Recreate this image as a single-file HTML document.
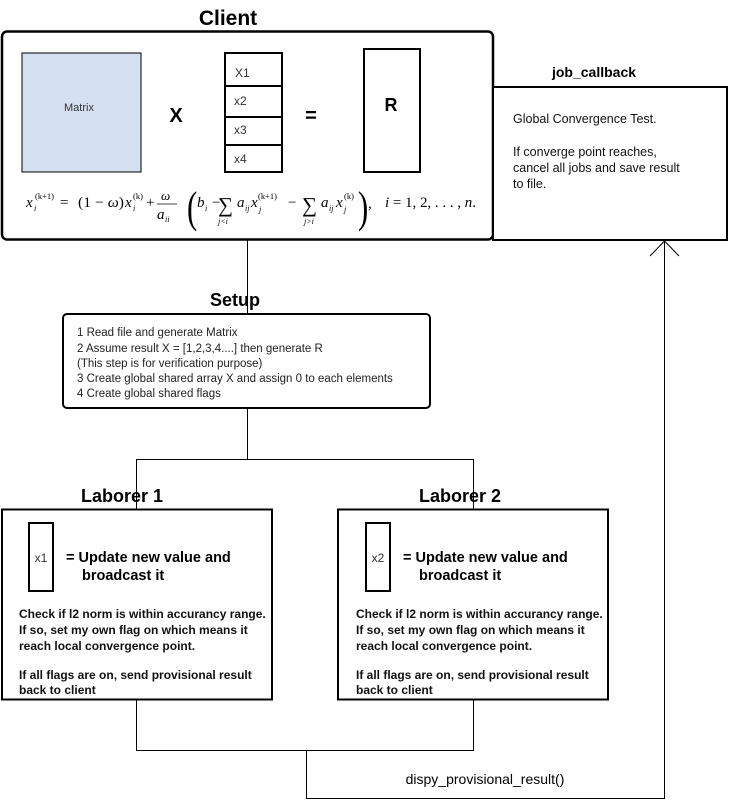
<!DOCTYPE html>
<html><head><meta charset="utf-8"><style>
html,body{margin:0;padding:0;background:#fff;}
svg{display:block;font-family:"Liberation Sans",Arial,sans-serif;}
</style></head><body>
<svg width="729" height="808" viewBox="0 0 729 808" xmlns="http://www.w3.org/2000/svg">
<!-- connectors -->
<g stroke="#000" stroke-width="1" fill="none">
<line x1="247.5" y1="240" x2="247.5" y2="314"/>
<line x1="247.5" y1="408" x2="247.5" y2="459.5"/>
<polyline points="136.5,509 136.5,459.5 473.5,459.5 473.5,509"/>
<polyline points="136.5,700 136.5,750.5 473.5,750.5 473.5,700"/>
<polyline points="306.5,750 306.5,798.5 664.5,798.5 664.5,242"/>
<polyline points="650,256 664.5,241 679,256"/>
</g>
<!-- client -->
<rect x="2" y="31.5" width="491" height="208" rx="5" fill="#fff" stroke="#000" stroke-width="2.5"/>
<text x="228" y="25" font-size="21" font-weight="bold" text-anchor="middle">Client</text>
<rect x="22" y="53" width="119" height="119" fill="#d4e0f2" stroke="#000" stroke-width="1"/>
<text x="79" y="111" font-size="11" fill="#333" text-anchor="middle">Matrix</text>
<text x="176" y="122" font-size="20" font-weight="bold" text-anchor="middle">X</text>
<g fill="none" stroke="#000" stroke-width="2">
<rect x="225" y="53" width="57" height="119"/>
<line x1="225" y1="86" x2="282" y2="86"/>
<line x1="225" y1="117" x2="282" y2="117"/>
<line x1="225" y1="145" x2="282" y2="145"/>
<rect x="364" y="49" width="56" height="123"/>
</g>
<g font-size="12" fill="#333">
<text x="235" y="77">X1</text><text x="234" y="105">x2</text><text x="234" y="134">x3</text><text x="234" y="163">x4</text>
</g>
<text x="311" y="122" font-size="20" font-weight="bold" text-anchor="middle">=</text>
<text x="391" y="111" font-size="18" font-weight="bold" text-anchor="middle">R</text>
<!-- formula -->
<g font-family="'Liberation Serif',serif" font-size="15" fill="#000">
<text x="26" y="207" font-style="italic">x</text>
<text x="34" y="211" font-size="8" font-style="italic">i</text>
<text x="35" y="199" font-size="8.5">(k+1)</text>
<text x="60" y="207">=</text>
<text x="78" y="207" textLength="46" lengthAdjust="spacingAndGlyphs">(1 − <tspan font-style="italic">ω</tspan>)</text>
<text x="125" y="207" font-style="italic">x</text>
<text x="133" y="211" font-size="8" font-style="italic">i</text>
<text x="133" y="199" font-size="8.5">(k)</text>
<text x="146" y="207">+</text>
<text x="161" y="200" font-size="13" font-style="italic">ω</text>
<line x1="157" y1="204" x2="177" y2="204" stroke="#000" stroke-width="0.8"/>
<text x="157" y="219" font-style="italic">a</text>
<text x="165" y="222" font-size="8" font-style="italic">ii</text>
<text x="187" y="222" font-size="44" font-weight="lighter" transform="translate(187 222) scale(0.7 1) translate(-187 -222)">(</text>
<text x="197" y="207" font-style="italic">b</text>
<text x="205" y="211" font-size="8" font-style="italic">i</text>
<text x="212" y="207">−</text>
<text x="218" y="212" font-size="21">∑</text>
<text x="218" y="224" font-size="8" font-style="italic">j&lt;i</text>
<text x="237" y="207" font-style="italic">a</text>
<text x="245" y="211" font-size="8" font-style="italic">ij</text>
<text x="251" y="207" font-style="italic">x</text>
<text x="259" y="212" font-size="8" font-style="italic">j</text>
<text x="258" y="199" font-size="8.5">(k+1)</text>
<text x="288" y="207">−</text>
<text x="302" y="212" font-size="21">∑</text>
<text x="304" y="224" font-size="8" font-style="italic">j&gt;i</text>
<text x="321" y="207" font-style="italic">a</text>
<text x="329" y="211" font-size="8" font-style="italic">ij</text>
<text x="336" y="207" font-style="italic">x</text>
<text x="344" y="212" font-size="8" font-style="italic">j</text>
<text x="344" y="199" font-size="8.5">(k)</text>
<text x="358" y="222" font-size="44" font-weight="lighter" transform="translate(358 222) scale(0.7 1) translate(-358 -222)">)</text>
<text x="368" y="208">,</text>
<text x="385" y="207" textLength="91" lengthAdjust="spacingAndGlyphs"><tspan font-style="italic">i</tspan> = 1, 2, . . . , <tspan font-style="italic">n</tspan>.</text>
</g>
<!-- job_callback -->
<rect x="493" y="87" width="234" height="153" fill="#fff" stroke="#000" stroke-width="2"/>
<text x="594" y="77" font-size="14" font-weight="bold" text-anchor="middle">job_callback</text>
<g font-size="12.5" fill="#111">
<text x="513" y="123">Global Convergence Test.</text>
<text x="513" y="156">If converge point reaches,</text>
<text x="513" y="172">cancel all jobs and save result</text>
<text x="513" y="188">to file.</text>
</g>
<!-- setup -->
<text x="235" y="306" font-size="18" font-weight="bold" text-anchor="middle">Setup</text>
<line x1="247.5" y1="290" x2="247.5" y2="314" stroke="#000"/>
<rect x="63" y="314" width="367" height="94" rx="4" fill="#fff" stroke="#000" stroke-width="2"/>
<g font-size="11.5" fill="#222">
<text x="77" y="336">1 Read file and generate Matrix</text>
<text x="77" y="352">2 Assume result X = [1,2,3,4....] then generate R</text>
<text x="77" y="367">(This step is for verification purpose)</text>
<text x="77" y="382">3 Create global shared array X and assign 0 to each elements</text>
<text x="77" y="397">4 Create global shared flags</text>
</g>
<!-- laborers -->
<g>
<text x="122" y="502" font-size="18" font-weight="bold" text-anchor="middle">Laborer 1</text>
<rect x="2" y="509.5" width="270" height="190" fill="#fff" stroke="#000" stroke-width="2"/>
<rect x="29" y="523" width="24" height="68" fill="none" stroke="#000" stroke-width="2"/>
<text x="41" y="562" font-size="12" fill="#333" text-anchor="middle">x1</text>
<text x="66" y="562" font-size="14.5" font-weight="bold">= Update new value and</text>
<text x="82" y="580" font-size="14.5" font-weight="bold">broadcast it</text>
<g font-size="12" font-weight="bold" fill="#111">
<text x="19" y="618">Check if l2 norm is within accurancy range.</text>
<text x="19" y="634">If so, set my own flag on which means it</text>
<text x="19" y="650">reach local convergence point.</text>
<text x="19" y="679">If all flags are on, send provisional result</text>
<text x="19" y="694">back to client</text>
</g>
</g>
<g>
<text x="460" y="502" font-size="18" font-weight="bold" text-anchor="middle">Laborer 2</text>
<line x1="473.5" y1="490" x2="473.5" y2="509" stroke="#000"/>
<rect x="338" y="509.5" width="270" height="190" fill="#fff" stroke="#000" stroke-width="2"/>
<rect x="366" y="523" width="24" height="68" fill="none" stroke="#000" stroke-width="2"/>
<text x="378" y="562" font-size="12" fill="#333" text-anchor="middle">x2</text>
<text x="403" y="562" font-size="14.5" font-weight="bold">= Update new value and</text>
<text x="419" y="580" font-size="14.5" font-weight="bold">broadcast it</text>
<g font-size="12" font-weight="bold" fill="#111">
<text x="356" y="618">Check if l2 norm is within accurancy range.</text>
<text x="356" y="634">If so, set my own flag on which means it</text>
<text x="356" y="650">reach local convergence point.</text>
<text x="356" y="679">If all flags are on, send provisional result</text>
<text x="356" y="694">back to client</text>
</g>
</g>
<text x="485" y="784" font-size="14" text-anchor="middle">dispy_provisional_result()</text>
</svg>
</body></html>
